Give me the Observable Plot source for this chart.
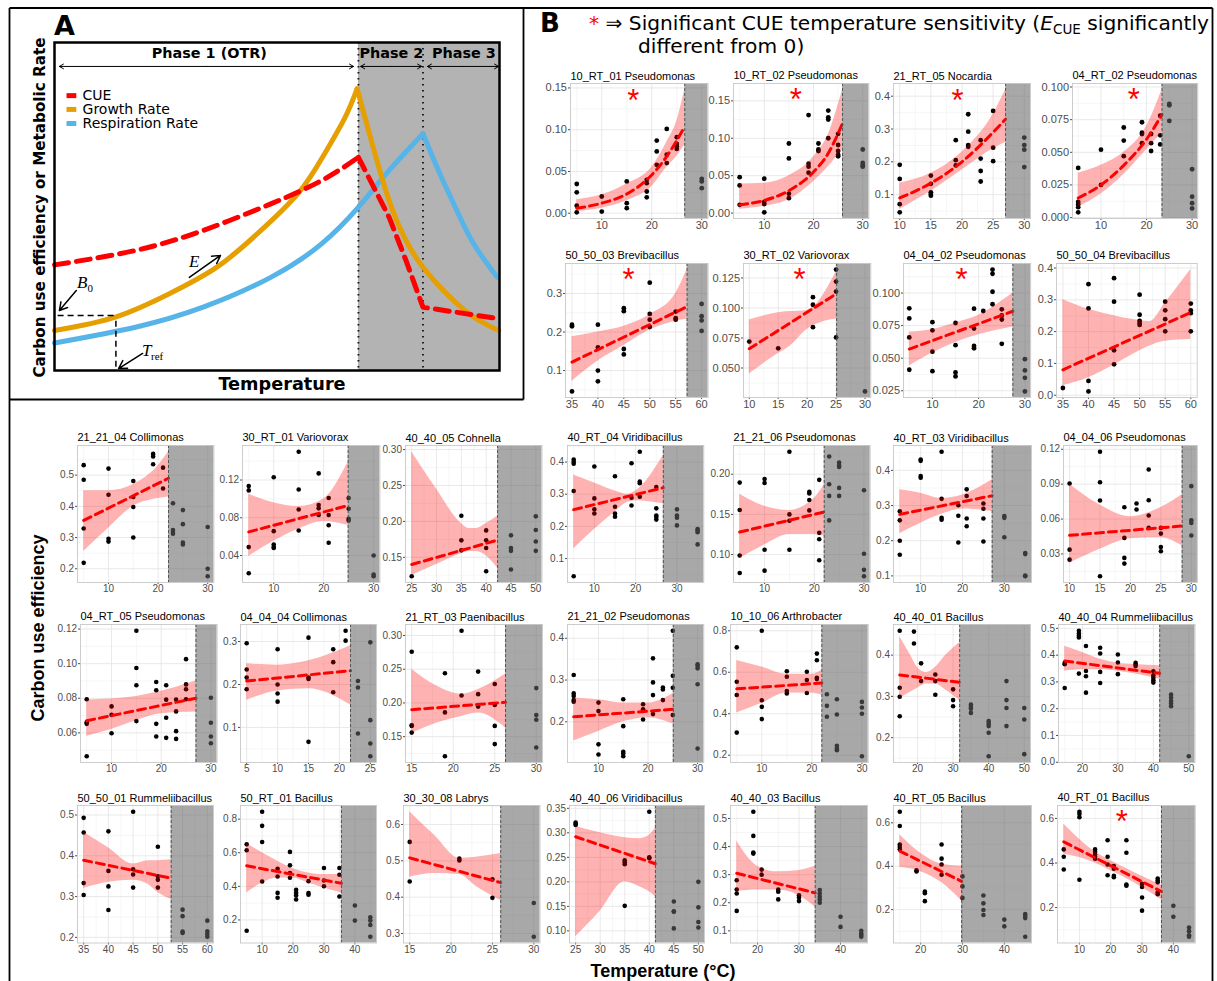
<!DOCTYPE html>
<html><head><meta charset="utf-8">
<script src="https://cdn.jsdelivr.net/npm/d3@7"></script>
<script src="https://cdn.jsdelivr.net/npm/@observablehq/plot@0.6"></script>
<style>
html,body{margin:0;padding:0;background:#fff;}
#fig{position:relative;width:1217px;height:981px;overflow:hidden;background:#fff;}
.cell{position:absolute;}
</style></head><body><div id="fig"></div>
<script>
// ---------------- Panel A (schematic) ----------------
const aGrowthUp = [[0,12.2],[13.7,16.3],[25.8,23.4],[36.5,31.5],[45.6,41.7],[54.7,53.9],[60.7,66.1],[65.3,77.2],[68,85.9]];
const aGrowthDown = [[68,85.9],[71.4,69.1],[75.2,51.8],[79,39.6],[82.8,31.5],[88.1,23.4],[94.2,16.3],[99.8,12.2]];
const aRespUp = [[0,8.4],[18.2,13.2],[33.4,19.3],[48.6,28.4],[60,38.6],[68.3,49.8],[75.2,61],[82.8,72.2]];
const aRespDown = [[82.8,72.2],[86.6,60],[90.4,48.8],[94.2,38.6],[99.5,28.4]];
const aCueUp = [[0,32.2],[18.2,36.6],[33.4,42.7],[48.6,50.8],[60,57.9],[68.3,65]];
const aCueDown = [[68.3,65],[75.2,46.7],[79,33.5],[82.8,19.3],[99.8,15.8]];
const aBounds = [68.3, 82.8];
const aLegend = [{label:"CUE",color:"#ff0000",y:83.8},{label:"Growth Rate",color:"#e69f00",y:79.6},{label:"Respiration Rate",color:"#56b4e9",y:75.3}];
const aPhases = [{label:"Phase 1 (OTR)",x:34.8,x1:1.1,x2:67.2},{label:"Phase 2",x:75.7,x1:68.8,x2:82.5},{label:"Phase 3",x:92.0,x1:83.8,x2:99.8}];
const aRefLines = [{x1:0.7,y1:16.8,x2:13.3,y2:16.8},{x1:13.8,y1:15.2,x2:13.8,y2:0}];
const aPointers = [{x1:4.9,y1:24.4,x2:1.1,y2:18.3},{x1:30.3,y1:28.4,x2:37.3,y2:35.1},{x1:19.8,y1:5.2,x2:14.4,y2:0.6}];

// ---------------- Panel B data ----------------
const titles = ["10_RT_01 Pseudomonas","10_RT_02 Pseudomonas","21_RT_05 Nocardia","04_RT_02 Pseudomonas","50_50_03 Brevibacillus","30_RT_02 Variovorax","04_04_02 Pseudomonas","50_50_04 Brevibacillus","21_21_04 Collimonas","30_RT_01 Variovorax","40_40_05 Cohnella","40_RT_04 Viridibacillus","21_21_06 Pseudomonas","40_RT_03 Viridibacillus","04_04_06 Pseudomonas","04_RT_05 Pseudomonas","04_04_04 Collimonas","21_RT_03 Paenibacillus","21_21_02 Pseudomonas","10_10_06 Arthrobacter","40_40_01 Bacillus","40_40_04 Rummeliibacillus","50_50_01 Rummeliibacillus","50_RT_01 Bacillus","30_30_08 Labrys","40_40_06 Viridibacillus","40_40_03 Bacillus","40_RT_05 Bacillus","40_RT_01 Bacillus"];

const p01_pts=[[5,[0.035,0.025,0.009,0.001]],[10,[0.020,0.002]],[15,[0.038,0.012,0.006]],[19,[0.040,0.036,0.026,0.019]],[21,[0.087,0.074,0.058]],[23,[0.101,0.070,0.060]],[25,[0.091,0.083,0.080,0.077]],[30,[0.041,0.038,0.030]]];
const p01_fit=[[5,0.006],[10,0.012],[15,0.023],[19,0.040],[23,0.068],[26.6,0.104]];
const p01_band=[[5,0.002,0.016],[10,0.006,0.022],[15,0.015,0.035],[20,0.032,0.055],[23,0.055,0.085],[25,0.068,0.110],[26.6,0.082,0.148]];

const p02_pts=[[5,[0.048,0.037,0.011]],[10,[0.046,0.015,0.012,0.001]],[15,[0.093,0.073,0.026,0.020]],[19,[0.131,0.066,0.062,0.054]],[21,[0.093,0.085,0.083]],[23,[0.137,0.128,0.125,0.100]],[25,[0.106,0.091,0.083,0.078,0.076]],[30,[0.085,0.067,0.064,0.062]]];
const p02_fit=[[5,0.011],[10,0.017],[15,0.030],[20,0.055],[23,0.080],[25.9,0.12]];
const p02_band=[[5,0.005,0.039],[10,0.009,0.040],[15,0.018,0.050],[20,0.042,0.075],[23,0.062,0.105],[25.9,0.085,0.165]];

const p03_pts=[[10,[0.191,0.148,0.071,0.046]],[15,[0.158,0.133,0.107,0.102,0.097]],[19,[0.266,0.205,0.189]],[21,[0.345,0.292,0.251,0.246]],[23,[0.266,0.21,0.172,0.14]],[25,[0.355,0.243,0.202]],[30,[0.274,0.251,0.237,0.184]]];
const p03_fit=[[10,0.09],[15,0.135],[20,0.20],[25,0.29],[27,0.33]];
const p03_band=[[10,0.055,0.135],[15,0.11,0.165],[20,0.175,0.23],[25,0.24,0.345],[27,0.26,0.42]];

const p04_pts=[[5,[0.038,0.012,0.010,0.008,0.004]],[10,[0.052,0.025]],[15,[0.069,0.059,0.047]],[19,[0.073,0.065,0.064,0.057]],[21,[0.064,0.057,0.051]],[23,[0.078,0.063,0.056]],[25,[0.087,0.086,0.074]],[30,[0.037,0.016,0.011,0.007]]];
const p04_fit=[[5,0.015],[10,0.025],[15,0.040],[20,0.060],[23.4,0.079]];
const p04_band=[[5,0.008,0.034],[10,0.018,0.040],[15,0.033,0.050],[20,0.052,0.070],[23.4,0.065,0.098]];

const p05_pts=[[35,[0.219,0.215,0.046]],[40,[0.219,0.160,0.100,0.072]],[45,[0.262,0.254,0.156,0.142]],[50,[0.328,0.247,0.232,0.213]],[55,[0.253,0.236,0.232]],[60,[0.273,0.241,0.230,0.203]]];
const p05_fit=[[35,0.122],[57.2,0.266]];
const p05_band=[[35,0.072,0.188],[40,0.125,0.200],[45,0.165,0.215],[50,0.205,0.245],[55,0.228,0.30],[57.2,0.233,0.362]];

const p06_pts=[[10,[0.072]],[15,[0.0664]],[21,[0.109,0.1027,0.084]],[25,[0.132,0.122,0.1137,0.0755]],[30,[0.0305]]];
const p06_fit=[[10,0.066],[25.1,0.112]];
const p06_band=[[10,0.045,0.09],[15,0.062,0.096],[17,0.068,0.097],[20,0.082,0.098],[25.1,0.091,0.131]];

const p07_pts=[[5,[0.0883,0.0805,0.0659,0.0411]],[10,[0.0776,0.0714,0.055,0.040]],[15,[0.077,0.060,0.039,0.036]],[19,[0.088,0.0727,0.0594,0.0576]],[21,[0.0862]],[23,[0.118,0.1148,0.101,0.0914]],[25,[0.0875,0.0828,0.0797,0.061]],[30,[0.0492,0.0406,0.0349,0.0245]]];
const p07_fit=[[5,0.057],[27.4,0.086]];
const p07_band=[[5,0.044,0.070],[10,0.054,0.072],[15,0.062,0.077],[20,0.068,0.083],[27.4,0.074,0.100]];

const p08_pts=[[35,[0.0227]],[40,[0.349,0.273,0.045,0.012]],[45,[0.368,0.294,0.141,0.097]],[50,[0.316,0.253,0.234,0.227,0.221]],[55,[0.294,0.267,0.239,0.201]],[60,[0.288,0.267,0.258,0.201]]];
const p08_fit=[[35,0.08],[60,0.26]];
const p08_band=[[35,0.03,0.30],[40,0.055,0.27],[45,0.095,0.25],[50,0.14,0.235],[52,0.155,0.232],[55,0.17,0.29],[60,0.175,0.395]];

const p09_pts=[[5,[0.532,0.485,0.329,0.219]],[10,[0.521,0.437,0.296,0.287]],[15,[0.481,0.430,0.398,0.30]],[19,[0.568,0.560,0.535]],[21,[0.524,0.457]],[23,[0.41,0.324,0.318,0.312]],[25,[0.388,0.343,0.284,0.278]],[30,[0.334,0.200,0.176]]];
const p09_fit=[[5,0.355],[22.1,0.49]];
const p09_band=[[5,0.255,0.45],[10,0.33,0.45],[15,0.40,0.47],[20,0.425,0.53],[22.1,0.43,0.575]];

const p10_pts=[[5,[0.1136,0.109,0.0489,0.0212]],[10,[0.123,0.0658,0.0517,0.049,0.048]],[15,[0.150,0.110,0.0888,0.0665]],[19,[0.127,0.0935,0.090,0.083]],[21,[0.101,0.083,0.072,0.0535]],[25,[0.101,0.0896,0.079,0.077]],[30,[0.040,0.0198,0.018]]];
const p10_fit=[[5,0.065],[24.9,0.093]];
const p10_band=[[5,0.039,0.105],[10,0.055,0.096],[15,0.068,0.092],[20,0.076,0.100],[24.9,0.072,0.139]];

const p11_pts=[[25,[0.1236]],[35,[0.2079,0.1736,0.1597]],[40,[0.1875,0.1736,0.163,0.1306]],[45,[0.1806,0.163,0.159,0.133]],[50,[0.207,0.188,0.172,0.159]]];
const p11_fit=[[25,0.14],[42.3,0.174]];
const p11_band=[[25,0.125,0.297],[30,0.14,0.245],[35,0.155,0.197],[36.5,0.158,0.19],[38,0.158,0.19],[40,0.152,0.197],[42.3,0.135,0.207]];

const p12_pts=[[5,[0.408,0.401,0.395,0.31,0.045]],[10,[0.386,0.287,0.253,0.240]],[15,[0.356,0.261,0.240,0.23]],[19,[0.396,0.289,0.265]],[21,[0.432,0.339,0.334,0.292]],[25,[0.322,0.256,0.234,0.229,0.221]],[30,[0.253,0.234,0.227,0.203]],[35,[0.192,0.188,0.182,0.144]]];
const p12_fit=[[5,0.252],[26.7,0.32]];
const p12_band=[[5,0.13,0.36],[10,0.19,0.335],[15,0.245,0.31],[18,0.275,0.30],[20,0.28,0.31],[26.7,0.27,0.42]];

const p13_pts=[[5,[0.1896,0.1554,0.0988,0.077]],[10,[0.194,0.189,0.106,0.080]],[15,[0.228,0.15,0.142,0.106]],[19,[0.178,0.176,0.168,0.155]],[21,[0.193,0.127,0.119,0.093]],[23,[0.222,0.1875,0.173,0.1425]],[25,[0.2146,0.211,0.209,0.183,0.173]],[30,[0.18,0.101,0.081,0.073]]];
const p13_fit=[[5,0.128],[22,0.153]];
const p13_band=[[5,0.095,0.175],[10,0.112,0.16],[15,0.125,0.155],[20,0.125,0.17],[22,0.123,0.187]];

const p14_pts=[[5,[0.284,0.258,0.20,0.16]],[10,[0.431,0.427,0.384,0.379]],[15,[0.453,0.319,0.265,0.26]],[19,[0.301,0.271,0.195]],[21,[0.346,0.327,0.263,0.241]],[25,[0.306,0.291,0.263,0.198]],[30,[0.27,0.265,0.21]],[35,[0.165,0.162,0.101,0.099]]];
const p14_fit=[[5,0.275],[27.1,0.328]];
const p14_band=[[5,0.22,0.345],[10,0.25,0.335],[15,0.275,0.32],[20,0.29,0.33],[27.1,0.283,0.373]];

const p15_pts=[[10,[0.0906,0.0337,0.0251]],[15,[0.1179,0.0917,0.0759,0.0108]],[19,[0.0702,0.0438,0.0266,0.0217]],[21,[0.0734,0.0682]],[23,[0.1026,0.0762,0.063,0.0524]],[25,[0.0524,0.0475,0.036,0.0323]],[30,[0.0883,0.059,0.0567,0.0458]]];
const p15_fit=[[10,0.046],[28.5,0.054]];
const p15_band=[[10,0.022,0.09],[15,0.034,0.072],[20,0.043,0.062],[25,0.044,0.07],[28.5,0.037,0.081]];

const p16_pts=[[5,[0.0794,0.0662,0.0652,0.0465]],[10,[0.0753,0.0704,0.0598]],[15,[0.119,0.0975,0.0875,0.0668]],[19,[0.0894,0.0846,0.0652,0.0579]],[21,[0.0875,0.0792,0.0687,0.0571]],[23,[0.0792,0.0724,0.061,0.0565]],[25,[0.1026,0.088,0.0852,0.0794]],[30,[0.0803,0.0658,0.0579,0.054]]];
const p16_fit=[[5,0.067],[27,0.080]];
const p16_band=[[5,0.058,0.079],[10,0.062,0.0795],[15,0.067,0.081],[20,0.071,0.084],[27,0.072,0.090]];

const p17_pts=[[5,[0.296,0.235,0.216,0.189]],[10,[0.282,0.20,0.179,0.16]],[15,[0.309,0.216,0.213,0.0665]],[19,[0.282,0.252,0.182]],[21,[0.325,0.302]],[23,[0.208,0.193,0.086]],[25,[0.298,0.117,0.0627,0.033]]];
const p17_fit=[[5,0.208],[21.8,0.232]];
const p17_band=[[5,0.163,0.248],[10,0.185,0.245],[15,0.19,0.255],[21.8,0.152,0.29]];

const p18_pts=[[15,[0.276,0.167,0.166,0.156]],[19,[0.244,0.186,0.121]],[21,[0.307,0.211]],[23,[0.2465,0.213,0.1946]],[25,[0.228,0.197,0.166,0.139]],[30,[0.222,0.182,0.175,0.134]]];
const p18_fit=[[15,0.19],[26.3,0.201]];
const p18_band=[[15,0.155,0.25],[18,0.17,0.225],[21,0.18,0.213],[23,0.185,0.22],[26.3,0.163,0.243]];

const p19_pts=[[5,[0.312,0.268,0.262,0.252,0.248]],[10,[0.246,0.2256,0.146,0.1216]],[15,[0.254,0.1896,0.128,0.124,0.1176]],[19,[0.242,0.230,0.226,0.2056]],[21,[0.352,0.2944,0.264,0.2184]],[23,[0.282,0.2776,0.252]],[25,[0.418,0.31,0.2816,0.216]],[30,[0.338,0.334,0.328,0.29,0.136]]];
const p19_fit=[[5,0.212],[25.1,0.23]];
const p19_band=[[5,0.154,0.257],[10,0.177,0.253],[15,0.2,0.245],[20,0.21,0.245],[25.1,0.195,0.268]];

const p20_pts=[[5,[0.72,0.554,0.49,0.309]],[10,[0.80,0.465,0.433,0.374]],[15,[0.605,0.578,0.509,0.498]],[19,[0.602,0.562,0.50]],[21,[0.69,0.658,0.573,0.567]],[23,[0.494,0.438,0.385]],[25,[0.47,0.396,0.245,0.232,0.224]],[30,[0.457,0.43,0.40,0.195]]];
const p20_fit=[[5,0.52],[22,0.548]];
const p20_band=[[5,0.403,0.657],[10,0.45,0.625],[15,0.5,0.59],[20,0.5,0.59],[22,0.49,0.61]];

const p21_pts=[[15,[0.459,0.321,0.299,0.252]],[19,[0.457,0.428]],[21,[0.38,0.337]],[25,[0.353,0.337,0.304]],[30,[0.317,0.291,0.276]],[35,[0.28,0.274,0.27,0.26]],[40,[0.24,0.234,0.228,0.212,0.155]],[45,[0.337,0.291,0.272,0.228]],[50,[0.272,0.244,0.16]]];
const p21_fit=[[15,0.352],[31.85,0.334]];
const p21_band=[[15,0.295,0.445],[18,0.31,0.40],[20,0.32,0.37],[22.5,0.33,0.358],[25,0.33,0.37],[28,0.315,0.40],[31.85,0.29,0.43]];

const p22_pts=[[15,[0.371,0.366,0.2775]],[19,[0.491,0.481,0.4725,0.466,0.331]],[21,[0.434,0.341,0.321,0.26]],[25,[0.4275,0.406,0.3375,0.296]],[30,[0.4025,0.3725,0.329]],[35,[0.371,0.365,0.359]],[40,[0.34,0.325,0.316,0.306,0.2975]],[45,[0.2525,0.241,0.229,0.219,0.209]],[50,[0.0225]]];
const p22_fit=[[15,0.378],[41.8,0.332]];
const p22_band=[[15,0.34,0.433],[20,0.345,0.41],[25,0.345,0.385],[30,0.34,0.37],[35,0.33,0.365],[41.8,0.31,0.36]];

const p23_pts=[[35,[0.493,0.457,0.333,0.304]],[40,[0.46,0.363,0.325,0.267]],[45,[0.508,0.367,0.354,0.322]],[50,[0.422,0.35,0.341,0.322]],[55,[0.268,0.252,0.214,0.211]],[60,[0.241,0.215,0.208,0.2015]]];
const p23_fit=[[35,0.389],[52.7,0.345]];
const p23_band=[[35,0.32,0.458],[40,0.335,0.42],[45,0.34,0.38],[48,0.33,0.388],[50,0.31,0.388],[52.7,0.293,0.39]];

const p24_pts=[[5,[0.65,0.615,0.136]],[10,[0.844,0.76,0.664,0.429]],[15,[0.505,0.459,0.361,0.332]],[19,[0.605,0.525,0.479,0.451]],[21,[0.379,0.361,0.346,0.322]],[25,[0.431,0.36,0.35]],[30,[0.509,0.435,0.401]],[35,[0.509,0.469,0.34]],[40,[0.286,0.196]],[45,[0.216,0.196,0.17,0.10]]];
const p24_fit=[[5,0.522],[35.65,0.418]];
const p24_band=[[5,0.36,0.655],[10,0.42,0.6],[15,0.45,0.55],[20,0.45,0.505],[25,0.42,0.48],[30,0.39,0.47],[35.65,0.36,0.47]];

const p25_pts=[[15,[0.552,0.443]],[21,[0.506,0.501]],[25,[0.449,0.398]],[30,[0.384,0.291]]];
const p25_fit=[[15,0.508],[26,0.44]];
const p25_band=[[15,0.455,0.635],[18,0.465,0.57],[21,0.462,0.507],[23,0.43,0.51],[26,0.39,0.52]];

const p26_pts=[[25,[0.321,0.318,0.316]],[35,[0.244,0.24,0.236,0.151]],[40,[0.343,0.25,0.248]],[45,[0.16,0.14,0.139,0.105]],[50,[0.20,0.148,0.118,0.107]]];
const p26_fit=[[25,0.292],[41.25,0.237]];
const p26_band=[[25,0.088,0.313],[30,0.14,0.30],[35,0.20,0.29],[38,0.19,0.288],[40,0.18,0.295],[41.25,0.17,0.31]];

const p27_pts=[[15,[0.28,0.247,0.233,0.171]],[19,[0.524,0.438,0.379,0.375]],[21,[0.318,0.30]],[25,[0.247,0.239,0.212]],[30,[0.227,0.219,0.206]],[35,[0.245,0.233,0.221,0.212,0.2]],[40,[0.15,0.114]],[45,[0.10,0.09,0.085,0.079]]];
const p27_fit=[[15,0.305],[33.9,0.235]];
const p27_band=[[15,0.24,0.42],[20,0.245,0.33],[25,0.245,0.31],[30,0.225,0.315],[33.9,0.185,0.33]];

const p28_pts=[[15,[0.651,0.585,0.50,0.489,0.478]],[19,[0.381,0.376]],[21,[0.283,0.276,0.239]],[25,[0.50,0.435,0.408,0.361]],[30,[0.353,0.307,0.254]],[35,[0.265,0.229,0.198,0.175]],[40,[0.154,0.123]],[45,[0.18,0.172,0.161,0.075]]];
const p28_fit=[[15,0.47],[29.8,0.33]];
const p28_band=[[15,0.395,0.545],[20,0.375,0.46],[25,0.325,0.41],[29.8,0.24,0.40]];

const p29_pts=[[5,[0.461,0.428,0.371]],[10,[0.63,0.62,0.605,0.325]],[15,[0.461,0.45,0.438,0.428,0.419]],[19,[0.502,0.428,0.393,0.345]],[21,[0.386,0.374,0.343,0.336]],[25,[0.502,0.446,0.303,0.298]],[30,[0.307,0.292,0.245,0.186]],[35,[0.33,0.321,0.313,0.268,0.26]],[40,[0.208,0.159]],[45,[0.11,0.094,0.076,0.069]]];
const p29_fit=[[5,0.495],[36.2,0.272]];
const p29_band=[[5,0.44,0.575],[15,0.40,0.45],[20,0.365,0.41],[25,0.33,0.375],[30,0.29,0.34],[36.2,0.235,0.30]];

const thresholds=[26.6,25.9,27,23.4,57.2,25.1,27.4,null,22.1,24.9,42.3,26.7,22,27.1,28.5,27,21.8,26.3,25.1,22,31.85,41.8,52.7,35.65,26,41.25,33.9,29.8,36.2];
const starX=[16.3,16.4,19.3,17.2,45.9,18.7,16.3,null,null,null,null,null,null,null,null,null,null,null,null,null,null,null,null,null,null,null,null,null,23.5];
const xTicks=[[10,20,30],[10,20,30],[10,15,20,25,30],[10,20,30],[35,40,45,50,55,60],[10,15,20,25,30],[10,20,30],[35,40,45,50,55,60],
[10,20,30],[10,20,30],[25,30,35,40,45,50],[10,20,30],[10,20,30],[10,20,30],[10,15,20,25,30],
[10,20,30],[5,10,15,20,25],[15,20,25,30],[10,20,30],[10,20,30],[20,30,40,50],[20,30,40,50],
[35,40,45,50,55,60],[10,20,30,40],[15,20,25,30],[25,30,35,40,45,50],[20,30,40],[20,30,40],[10,20,30,40]];
const yTicks=[[0,0.05,0.1,0.15],[0,0.05,0.1,0.15],[0.1,0.2,0.3,0.4],[0,0.025,0.05,0.075,0.1],[0.1,0.2,0.3],[0.05,0.075,0.1,0.125],[0.025,0.05,0.075,0.1],[0,0.1,0.2,0.3,0.4],
[0.2,0.3,0.4,0.5],[0.04,0.08,0.12],[0.15,0.2,0.25,0.3],[0.1,0.2,0.3,0.4],[0.1,0.15,0.2],[0.1,0.2,0.3,0.4],[0.03,0.06,0.09,0.12],
[0.06,0.08,0.1,0.12],[0.1,0.2,0.3],[0.15,0.2,0.25,0.3],[0.2,0.3,0.4],[0.2,0.4,0.6,0.8],[0.2,0.3,0.4],[0,0.1,0.2,0.3,0.4,0.5],
[0.2,0.3,0.4,0.5],[0.2,0.4,0.6,0.8],[0.3,0.4,0.5,0.6],[0.1,0.15,0.2,0.25,0.3,0.35],[0.1,0.2,0.3,0.4,0.5],[0.2,0.4,0.6],[0.2,0.4,0.6]];
const yDigits=[2,2,1,3,1,3,3,1,1,2,2,1,2,1,2,2,1,2,1,1,1,1,1,1,1,2,1,1,1];

const panels=[[p01_pts,p01_fit,p01_band],[p02_pts,p02_fit,p02_band],[p03_pts,p03_fit,p03_band],[p04_pts,p04_fit,p04_band],[p05_pts,p05_fit,p05_band],[p06_pts,p06_fit,p06_band],[p07_pts,p07_fit,p07_band],[p08_pts,p08_fit,p08_band],[p09_pts,p09_fit,p09_band],[p10_pts,p10_fit,p10_band],[p11_pts,p11_fit,p11_band],[p12_pts,p12_fit,p12_band],[p13_pts,p13_fit,p13_band],[p14_pts,p14_fit,p14_band],[p15_pts,p15_fit,p15_band],[p16_pts,p16_fit,p16_band],[p17_pts,p17_fit,p17_band],[p18_pts,p18_fit,p18_band],[p19_pts,p19_fit,p19_band],[p20_pts,p20_fit,p20_band],[p21_pts,p21_fit,p21_band],[p22_pts,p22_fit,p22_band],[p23_pts,p23_fit,p23_band],[p24_pts,p24_fit,p24_band],[p25_pts,p25_fit,p25_band],[p26_pts,p26_fit,p26_band],[p27_pts,p27_fit,p27_band],[p28_pts,p28_fit,p28_band],[p29_pts,p29_fit,p29_band]];

// ---------------- layout (pixel frames of each small plot) ----------------
const topL=[[569.5,732.6,893,1071.7],[565,742.7,902.8,1056]];
const topR=[[707,868,1030,1197],[707.6,870,1030,1196.7]];
const topT=[83,263], topB=[218,397];
const botL=[[77,242,405,566.7,733,893,1062.6],[80,240,405,566.7,730,893,1058],[77,240,403,569,730,893,1056.7]];
const botR=[[213.4,379.4,541.5,703,869.7,1031,1196.5],[216.6,376,542,703,867.7,1030,1194.5],[213,376,539.5,704,867,1031,1194.5]];
const botT=[445,624,805], botB=[582,762,942.5];

const fig=document.getElementById("fig");
function expand([a,b]){const d=(b-a)*0.05;return [a-d,b+d];}
function inside(v,dom){return v>dom[0]+1e-9&&v<dom[1]-1e-9;}
function minorOf(t,dom){const s=t[1]-t[0];const m=[t[0]-s/2,...t.map(v=>v+s/2)];return m.filter(v=>inside(v,dom));}
function place(node,left,top){const div=document.createElement("div");div.className="cell";div.style.left=left+"px";div.style.top=top+"px";div.appendChild(node);fig.appendChild(div);}

function drawPanel(i,L,T,R,B,fs,rad){
  const [ptsG,fit,band]=panels[i];
  const pts=ptsG.flatMap(([x,ys])=>ys.map(y=>({x,y})));
  const xd=expand(d3.extent(pts,d=>d.x));
  const yd=expand(d3.extent(pts.map(d=>d.y).concat(band.flatMap(d=>[d[1],d[2]]))));
  const ml=40,mr=6,mt=20,mb=18;
  const W=R-L+ml+mr,H=B-T+mt+mb;
  const thr=thresholds[i],star=starX[i];
  const xt=xTicks[i].filter(v=>inside(v,xd)),yt=yTicks[i].filter(v=>inside(v,yd));
  const marks=[
    Plot.ruleX(minorOf(xTicks[i],xd),{stroke:"#f2f2f2",strokeWidth:0.7}),
    Plot.ruleY(minorOf(yTicks[i],yd),{stroke:"#f2f2f2",strokeWidth:0.7}),
    Plot.ruleX(xt,{stroke:"#e3e3e3",strokeWidth:0.8}),
    Plot.ruleY(yt,{stroke:"#e3e3e3",strokeWidth:0.8}),
    Plot.dot(pts,{x:"x",y:"y",r:rad,fill:"#000"}),
    Plot.areaY(band,{x:d=>d[0],y1:d=>d[1],y2:d=>d[2],fill:"#ff0000",fillOpacity:0.3,curve:"monotone-x"}),
    Plot.line(fit,{x:d=>d[0],y:d=>d[1],stroke:"#ff0000",strokeWidth:3,strokeDasharray:"8,5",curve:"monotone-x"})
  ];
  if(thr!=null){
    marks.push(Plot.rect([0],{x1:()=>thr,x2:()=>xd[1],y1:()=>yd[0],y2:()=>yd[1],fill:"#636363",fillOpacity:0.56}));
    marks.push(Plot.ruleX([thr],{stroke:"#4a4a4a",strokeDasharray:"3,2",strokeWidth:0.9}));
  }
  marks.push(Plot.frame({stroke:"#c8c8c8",strokeWidth:0.9}));
  marks.push(Plot.text([titles[i]],{frameAnchor:"top-left",text:d=>d,textAnchor:"start",lineAnchor:"bottom",dy:-4,fill:"#000",fontSize:11}));
  if(star!=null) marks.push(Plot.text([star],{x:d=>d,frameAnchor:"top",text:()=>"*",fill:"#ff0000",fontSize:31,lineAnchor:"bottom",dy:27}));
  const chart=Plot.plot({
    width:W,height:H,marginLeft:ml,marginRight:mr,marginTop:mt,marginBottom:mb,
    style:{background:"transparent",overflow:"visible",maxWidth:"none",fontFamily:"'Liberation Sans', Arial, sans-serif",fontSize:fs+"px",color:"#4d4d4d"},
    x:{domain:xd,ticks:xt,tickSize:2,tickPadding:0.5,tickFormat:d3.format("d"),label:null},
    y:{domain:yd,ticks:yt,tickSize:2,tickPadding:1.5,tickFormat:d3.format("."+yDigits[i]+"f"),label:null},
    marks
  });
  place(chart,L-ml,T-mt);
}

for(let r=0;r<2;r++)for(let c=0;c<4;c++) drawPanel(r*4+c,topL[r][c],topT[r],topR[r][c],topB[r],11,2.4);
for(let r=0;r<3;r++)for(let c=0;c<7;c++) drawPanel(8+r*7+c,botL[r][c],botT[r],botR[r][c],botB[r],10,2.3);

// ---------------- Panel A plot ----------------
const xy={x:d=>d[0],y:d=>d[1]};
const chartA=Plot.plot({
  width:513,height:391,marginLeft:44,marginRight:24,marginTop:34,marginBottom:29,
  x:{domain:[0,100],axis:null},y:{domain:[0,100],axis:null},
  style:{background:"transparent",overflow:"visible",maxWidth:"none",fontFamily:"'DejaVu Sans', sans-serif"},
  marks:[
    Plot.rect([0],{x1:()=>aBounds[0],x2:()=>100,y1:()=>0,y2:()=>100,fill:"#b3b3b3"}),
    Plot.ruleX(aBounds,{stroke:"#111",strokeWidth:1.8,strokeDasharray:"1.5,4.5"}),
    Plot.line(aRespUp,{...xy,stroke:"#56b4e9",strokeWidth:5,curve:"natural"}),
    Plot.line(aRespDown,{...xy,stroke:"#56b4e9",strokeWidth:5,curve:"natural"}),
    Plot.line(aGrowthUp,{...xy,stroke:"#e69f00",strokeWidth:5,curve:"natural"}),
    Plot.line(aGrowthDown,{...xy,stroke:"#e69f00",strokeWidth:5,curve:"natural"}),
    Plot.line(aCueUp,{...xy,stroke:"#ff0000",strokeWidth:5,strokeDasharray:"14,8",curve:"natural"}),
    Plot.line(aCueDown,{...xy,stroke:"#ff0000",strokeWidth:5,strokeDasharray:"14,8",curve:"linear"}),
    Plot.link(aLegend,{x1:()=>2.7,x2:()=>4.9,y1:"y",y2:"y",stroke:"color",strokeWidth:5}),
    Plot.text(aLegend,{x:()=>6.3,y:"y",text:"label",textAnchor:"start",fontSize:14,fill:"#000"}),
    Plot.text(aPhases,{x:"x",y:()=>96.6,text:"label",fontSize:14.4,fontWeight:"bold",fill:"#000"}),
    Plot.arrow(aPhases,{x1:d=>(d.x1+d.x2)/2,x2:"x1",y1:()=>92.7,y2:()=>92.7,stroke:"#000",strokeWidth:1,headLength:7}),
    Plot.arrow(aPhases,{x1:d=>(d.x1+d.x2)/2,x2:"x2",y1:()=>92.7,y2:()=>92.7,stroke:"#000",strokeWidth:1,headLength:7}),
    Plot.link(aRefLines,{x1:"x1",y1:"y1",x2:"x2",y2:"y2",stroke:"#000",strokeWidth:1.5,strokeDasharray:"6,4"}),
    Plot.arrow(aPointers,{x1:"x1",y1:"y1",x2:"x2",y2:"y2",stroke:"#000",strokeWidth:1.5,headLength:9}),
    Plot.frame({stroke:"#000",strokeWidth:2.5})
  ]
});
place(chartA,10,8);

// ---------------- overlay: frames and headings ----------------
const ov=d3.select(fig).append("svg").attr("width",1217).attr("height",981)
  .style("position","absolute").style("left","0px").style("top","0px").style("pointer-events","none");
[[9.5,8,1212.5,8],[9.5,8,9.5,981],[1212.5,8,1212.5,981],[523.5,8,523.5,399.5],[9.5,399.5,523.5,399.5]].forEach(([x1,y1,x2,y2])=>
  ov.append("line").attr("x1",x1).attr("y1",y1).attr("x2",x2).attr("y2",y2).attr("stroke","#000").attr("stroke-width",1.8));
const t=(x,y,s,opt={})=>{const e=ov.append("text").attr("x",x).attr("y",y).text(s)
  .attr("font-family",opt.ff||"'DejaVu Sans', sans-serif").attr("font-size",opt.fs||14)
  .attr("font-weight",opt.fw||"normal").attr("text-anchor",opt.ta||"start").attr("fill",opt.fill||"#000");
  if(opt.fst) e.attr("font-style",opt.fst); if(opt.tr) e.attr("transform",opt.tr); return e;};
t(54,35,"A",{fs:27,fw:"bold"});
t(540,32,"B",{fs:26,fw:"bold"});
const h1=ov.append("text").attr("x",589).attr("y",30).attr("font-family","'DejaVu Sans', sans-serif").attr("font-size",20.2).attr("fill","#000");
h1.append("tspan").attr("fill","#ff0000").text("*");
h1.append("tspan").text(" \u21D2 Significant CUE temperature sensitivity (");
h1.append("tspan").attr("font-style","italic").text("E");
h1.append("tspan").attr("font-size",13.5).attr("dy",4).text("CUE");
h1.append("tspan").attr("dy",-4).text(" significantly");
t(638,53,"different from 0)",{fs:20.2});
t(0,0,"Carbon use efficiency or Metabolic Rate",{fs:15.2,fw:"bold",ta:"middle",tr:"translate(44.5,207.5) rotate(-90)"});
t(282,390,"Temperature",{fs:17.7,fw:"bold",ta:"middle"});
const serif={ff:"'Liberation Serif', 'DejaVu Serif', serif",fs:17,fst:"italic"};
t(77,288,"B",serif); t(87.5,292,"0",{ff:serif.ff,fs:11});
t(189,267,"E",serif);
t(142,356,"T",serif); t(151,360,"ref",{ff:serif.ff,fs:11});
t(0,0,"Carbon use efficiency",{ff:"'Liberation Sans', Arial, sans-serif",fs:18,fw:"bold",ta:"middle",tr:"translate(44,628) rotate(-90)"});
t(663,977,"Temperature (\u00B0C)",{ff:"'Liberation Sans', Arial, sans-serif",fs:18,fw:"bold",ta:"middle"});
</script></body></html>
